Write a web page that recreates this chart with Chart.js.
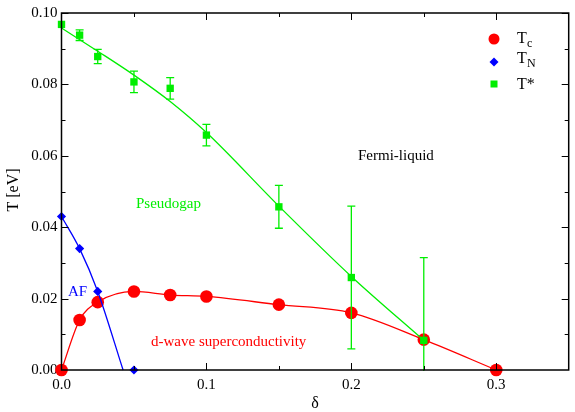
<!DOCTYPE html>
<html>
<head>
<meta charset="utf-8">
<script src="https://cdn.jsdelivr.net/npm/chart.js@4"></script>
<style>
  html, body { margin: 0; padding: 0; background: #fff; }
  #wrap { width: 575px; height: 412px; }
</style>
</head>
<body>
<div id="wrap"><canvas id="myChart" width="575" height="412"></canvas></div>
<script>
// doping values and temperatures (eV)
const tcDelta = [0, 0.0125, 0.025, 0.05, 0.075, 0.1, 0.15, 0.2, 0.25, 0.3];
const tcValues = [0, 0.014, 0.019, 0.022, 0.021, 0.0206, 0.0183, 0.016, 0.0085, 0];

const tnDelta = [0, 0.0125, 0.025, 0.05];
const tnValues = [0.043, 0.034, 0.022, 0];
// hand-drawn AF boundary through the TN points
const tnFitDelta = [0, 0.0125, 0.025, 0.0425];
const tnFitValues = [0.043, 0.034, 0.022, 0];

const tsDelta = [0, 0.0125, 0.025, 0.05, 0.075, 0.1, 0.15, 0.2, 0.25];
const tsValues = [0.0968, 0.0938, 0.0878, 0.0807, 0.0789, 0.0658, 0.0457, 0.0259, 0.0083];
const tsErrors = [0, 0.0015, 0.002, 0.003, 0.003, 0.003, 0.006, 0.02, 0.0232];
// smooth T* guide line
const tsFitDelta = [0, 0.025, 0.05, 0.075, 0.1, 0.15, 0.2, 0.25];
const tsFitValues = [0.0958, 0.0893, 0.0826, 0.0752, 0.0665, 0.0459, 0.0262, 0.0083];

const xTicks = [0, 0.1, 0.2, 0.3];
const yTicks = [0, 0.02, 0.04, 0.06, 0.08, 0.10];

const RED = "#ff0000";
const BLUE = "#0000ff";
const GREEN = "#00ee00";
const SERIF = "'Liberation Serif', 'DejaVu Serif', serif";

function toPoints(xs, ys) {
  return xs.map((x, i) => ({ x: x, y: ys[i] }));
}

// frame, inward ticks, error bars, labels and legend
const decorations = {
  id: "decorations",
  afterDatasetsDraw(chart) {
    const ctx = chart.ctx;
    const xs = chart.scales.x;
    const ys = chart.scales.y;
    const a = chart.chartArea;

    // error bars for T*
    ctx.save();
    ctx.beginPath();
    ctx.rect(a.left, a.top, a.right - a.left, a.bottom - a.top + 1);
    ctx.clip();
    ctx.strokeStyle = GREEN;
    ctx.lineWidth = 1.3;
    tsDelta.forEach((d, i) => {
      const e = tsErrors[i];
      if (!e) return;
      const px = xs.getPixelForValue(d);
      const top = ys.getPixelForValue(tsValues[i] + e);
      const bot = ys.getPixelForValue(tsValues[i] - e);
      ctx.beginPath();
      ctx.moveTo(px, top); ctx.lineTo(px, bot);
      ctx.moveTo(px - 4, top); ctx.lineTo(px + 4, top);
      ctx.moveTo(px - 4, bot); ctx.lineTo(px + 4, bot);
      ctx.stroke();
    });
    ctx.restore();
  },
  afterDraw(chart) {
    const ctx = chart.ctx;
    const xs = chart.scales.x;
    const ys = chart.scales.y;
    const a = chart.chartArea;

    ctx.save();
    ctx.strokeStyle = "#000";
    ctx.lineWidth = 1.5;
    ctx.strokeRect(a.left, a.top, a.right - a.left, a.bottom - a.top);

    ctx.lineWidth = 1;
    ctx.beginPath();
    for (let v = 0.05; v < 0.35; v += 0.05) {
      const px = Math.round(xs.getPixelForValue(v)) + 0.5;
      const len = Math.abs(v / 0.1 - Math.round(v / 0.1)) < 1e-6 ? 7 : 4;
      ctx.moveTo(px, a.bottom); ctx.lineTo(px, a.bottom - len);
      ctx.moveTo(px, a.top); ctx.lineTo(px, a.top + len);
    }
    for (let v = 0.01; v < 0.1; v += 0.01) {
      const py = Math.round(ys.getPixelForValue(v)) + 0.5;
      const len = Math.abs(v / 0.02 - Math.round(v / 0.02)) < 1e-6 ? 7 : 4;
      ctx.moveTo(a.left, py); ctx.lineTo(a.left + len, py);
      ctx.moveTo(a.right, py); ctx.lineTo(a.right - len, py);
    }
    ctx.stroke();

    // axis titles
    ctx.fillStyle = "#000";
    ctx.font = "16px " + SERIF;
    ctx.textAlign = "center";
    ctx.textBaseline = "middle";
    ctx.fillText("δ", (a.left + a.right) / 2, 404);
    ctx.save();
    ctx.translate(14, 190);
    ctx.rotate(-Math.PI / 2);
    ctx.fillText("T [eV]", 0, 0);
    ctx.restore();

    // region labels
    ctx.font = "15px " + SERIF;
    ctx.textAlign = "left";
    ctx.fillStyle = "#000";
    ctx.fillText("Fermi-liquid", 358, 156);
    ctx.fillStyle = GREEN;
    ctx.fillText("Pseudogap", 136, 204);
    ctx.fillStyle = BLUE;
    ctx.fillText("AF", 68, 292);
    ctx.fillStyle = RED;
    ctx.fillText("d-wave superconductivity", 151, 342);

    // legend
    const lx = 494;
    ctx.fillStyle = RED;
    ctx.beginPath(); ctx.arc(lx, 39, 5.5, 0, Math.PI * 2); ctx.fill();
    ctx.fillStyle = BLUE;
    ctx.beginPath();
    ctx.moveTo(lx, 57.5); ctx.lineTo(lx + 4.5, 62); ctx.lineTo(lx, 66.5); ctx.lineTo(lx - 4.5, 62);
    ctx.closePath(); ctx.fill();
    ctx.fillStyle = GREEN;
    ctx.fillRect(lx - 3.5, 80.5, 7, 7);

    ctx.fillStyle = "#000";
    ctx.textBaseline = "alphabetic";
    ctx.font = "16px " + SERIF;
    ctx.fillText("T", 517, 43);
    ctx.fillText("T", 517, 63);
    ctx.fillText("T*", 517, 89);
    ctx.font = "12px " + SERIF;
    ctx.fillText("c", 527, 47);
    ctx.fillText("N", 527, 67);
    ctx.restore();
  }
};

new Chart("myChart", {
  type: "scatter",
  data: {
    datasets: [
      {
        data: toPoints(tsFitDelta, tsFitValues),
        showLine: true,
        borderColor: GREEN,
        borderWidth: 1.3,
        pointRadius: 0,
        cubicInterpolationMode: "monotone",
        order: 2
      },
      {
        data: toPoints(tsDelta, tsValues),
        backgroundColor: GREEN,
        borderWidth: 0,
        pointStyle: "rect",
        pointRadius: 5.2,
        order: 1
      },
      {
        data: toPoints(tnFitDelta, tnFitValues),
        showLine: true,
        borderColor: BLUE,
        borderWidth: 1.3,
        pointRadius: 0,
        cubicInterpolationMode: "monotone",
        order: 4
      },
      {
        data: toPoints(tnDelta, tnValues),
        backgroundColor: BLUE,
        borderWidth: 0,
        pointStyle: "rectRot",
        pointRadius: 4.6,
        order: 3
      },
      {
        data: toPoints(tcDelta, tcValues),
        showLine: true,
        borderColor: RED,
        borderWidth: 1.3,
        backgroundColor: RED,
        pointBorderWidth: 0,
        pointRadius: 6.3,
        cubicInterpolationMode: "monotone",
        order: 5
      }
    ]
  },
  options: {
    responsive: false,
    animation: false,
    clip: false,
    layout: { padding: { top: 10, right: 4, left: 0, bottom: 0 } },
    plugins: {
      legend: { display: false },
      tooltip: { enabled: false }
    },
    scales: {
      x: {
        type: "linear",
        min: 0,
        max: 0.35,
        afterFit(scale) { scale.height = 42; },
        afterBuildTicks(scale) { scale.ticks = xTicks.map(v => ({ value: v })); },
        grid: { display: false, drawTicks: false },
        border: { display: false },
        ticks: {
          padding: 6,
          color: "#000",
          font: { family: SERIF, size: 15 },
          callback: v => v.toFixed(1)
        }
      },
      y: {
        type: "linear",
        min: 0,
        max: 0.10,
        afterFit(scale) { scale.width = 61.5; },
        afterBuildTicks(scale) { scale.ticks = yTicks.map(v => ({ value: v })); },
        grid: { display: false, drawTicks: false },
        border: { display: false },
        ticks: {
          padding: 4,
          color: "#000",
          font: { family: SERIF, size: 15 },
          callback: v => v.toFixed(2)
        }
      }
    }
  },
  plugins: [decorations]
});
</script>
</body>
</html>
